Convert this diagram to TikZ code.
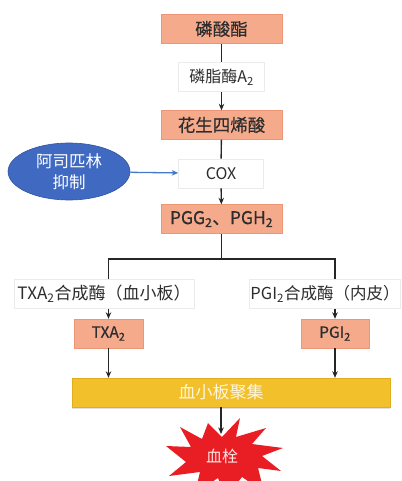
\documentclass[tikz,border=0pt]{standalone}
\usepackage{fontspec}
\setmainfont{Noto Sans CJK SC}
\newfontfamily\cjkmed[FakeBold=0.5]{Noto Sans CJK SC}
\usetikzlibrary{arrows.meta,shapes.geometric,shadows}
\definecolor{salm}{RGB}{245,170,140}
\definecolor{salmD}{RGB}{236,150,118}
\definecolor{barY}{RGB}{242,192,42}
\definecolor{barD}{RGB}{226,172,30}
\definecolor{aspB}{RGB}{64,106,194}
\definecolor{aspD}{RGB}{46,84,160}
\definecolor{arrB}{RGB}{70,120,200}
\definecolor{clotR}{RGB}{232,30,36}
\definecolor{txt}{RGB}{45,45,45}
\begin{document}
\begin{tikzpicture}[x=1pt,y=-1pt,
  salmon/.style={fill=salm, draw=salmD, line width=0.4pt, minimum width=121pt, minimum height=29pt, inner sep=0pt, text=txt, font=\cjkmed\fontsize{17.5}{20}\selectfont},
  wbox/.style={fill=white, draw=black!8, line width=0.6pt, minimum height=29pt, inner sep=1pt, text=txt, font=\fontsize{16}{18}\selectfont},
  arr/.style={-{Stealth[length=6.5pt,width=5.5pt]}, line width=1.4pt, draw=black!85},
  ln/.style={line width=1.4pt, draw=black!85}]
\useasboundingbox (0,0) rectangle (401,481);
% main column
\node[salmon] (pe) at (221.5,29) {磷酸酯};
\node[wbox, minimum width=86pt] (pla) at (221.5,77) {磷脂酶A\textsubscript{2}};
\node[salmon] (aa) at (221.5,125) {花生四烯酸};
\node[wbox, minimum width=85pt] (cox) at (221,173.5) {COX};
\node[salmon] (pgg) at (221.5,219) {PGG\textsubscript{2}、PGH\textsubscript{2}};
% aspirin
\node[ellipse, fill=aspB, draw=aspD, line width=0.6pt, minimum width=122pt, minimum height=57pt, inner sep=0pt, align=center, text=white, font=\fontsize{16.5}{21}\selectfont] (asp) at (69,171.5) {阿司匹林\\抑制};
% branches
\node[wbox, minimum width=180pt, font=\fontsize{17}{19}\selectfont] (txs) at (104,294) {TXA\textsubscript{2}合成酶（血小板）};
\node[wbox, minimum width=150pt, font=\fontsize{16.5}{19}\selectfont] (pgs) at (325,294) {PGI\textsubscript{2}合成酶（内皮）};
\node[salmon, minimum width=69pt, font=\cjkmed\fontsize{15.5}{18}\selectfont] (txa) at (108.5,333.5) {TXA\textsubscript{2}};
\node[salmon, minimum width=68pt, font=\cjkmed\fontsize{15.5}{18}\selectfont] (pgi) at (335,333.5) {PGI\textsubscript{2}};
% bar
\node[fill=barY, draw=barD, line width=0.4pt, minimum width=318pt, minimum height=29pt, inner sep=0pt, drop shadow={opacity=0.25, shadow xshift=0pt, shadow yshift=-1.5pt}] (agg) at (231,392.5) {};
\node[text={rgb,255:red,255;green,246;blue,222}, font=\fontsize{17}{19}\selectfont] (aggt) at (221,392.5) {血小板聚集};
% clot star
\fill[clotR] (240,418) -- (236,437) -- (266,428) -- (252,444) -- (283,448) -- (262,456) -- (281,471) -- (258,468) -- (264,492) -- (242,477) -- (226,497) -- (218,478) -- (195,493) -- (200,472) -- (169,476) -- (186,462) -- (166,446) -- (191,447) -- (180,427) -- (202,439) -- (208,423) -- (222,437) -- cycle;
\node[text={rgb,255:red,255;green,228;blue,228}, font=\fontsize{16}{18}\selectfont] (clot) at (222,456) {血栓};
\coordinate (stop) at (221,434);
% connectors
\draw[ln] (pe) -- (pla);
\draw[arr] (pla) -- (aa);
\draw[ln] (aa) -- (cox);
\draw[arr] (cox) -- (pgg);
\draw[-{Stealth[length=6.5pt,width=5.5pt]}, line width=1.3pt, draw=arrB] (asp) -- (cox);
\coordinate (br) at (221.5,259);
\coordinate (bl) at (108.5,259);
\coordinate (brr) at (335,259);
\draw[ln] (pgg.south) -- (br);
\draw[ln] (txs.north -| bl) -- (bl) -- (brr) -- (pgs.north -| brr);
\draw[arr] (txs.south -| txa) -- (txa);
\draw[arr] (pgs.south -| pgi) -- (pgi);
\draw[arr] (txa) -- (txa |- agg.north);
\draw[arr] (pgi) -- (pgi |- agg.north);
\draw[arr] (agg.south -| stop) -- (stop);
\end{tikzpicture}
\end{document}
